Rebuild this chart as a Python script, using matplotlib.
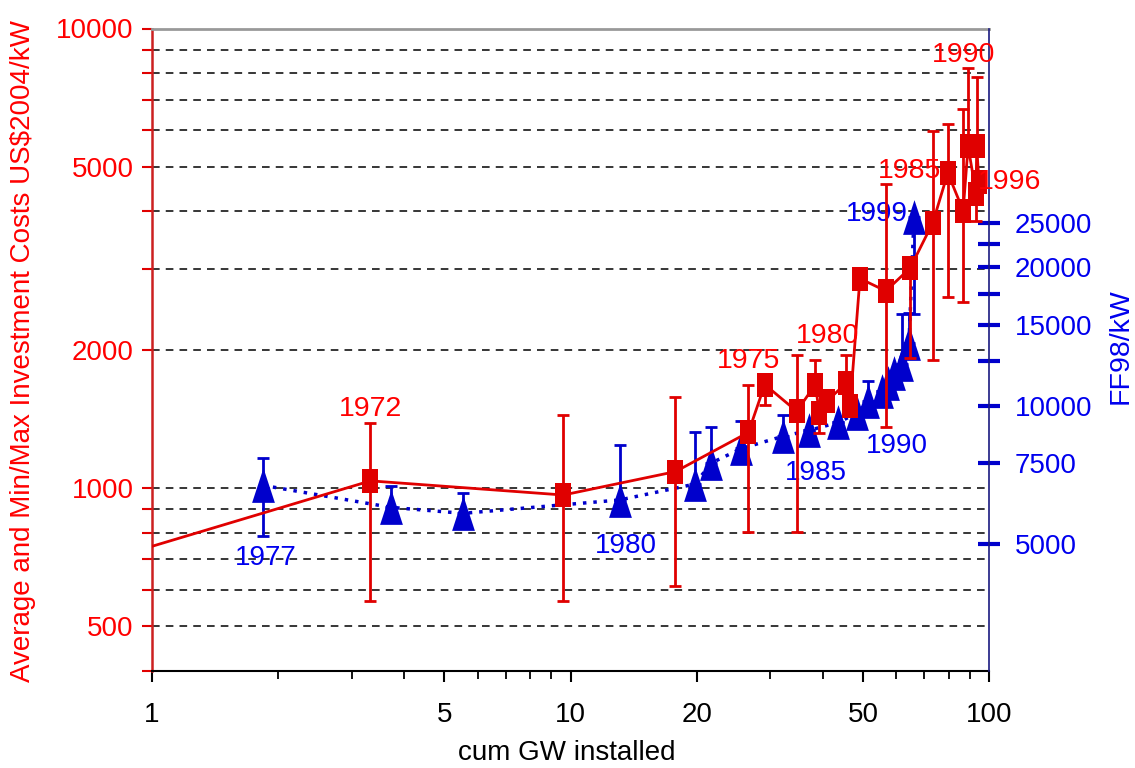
import numpy as np
import matplotlib
matplotlib.use('Agg')
import matplotlib.pyplot as plt
from matplotlib.ticker import NullFormatter, NullLocator

plt.rcParams['font.family'] = ['Liberation Sans', 'DejaVu Sans']

# average investment cost (US$2004/kW) vs cumulative GW, with min/max
red_x = [0.5, 3.33, 9.61, 17.8, 26.6, 29.1, 34.7, 38.4, 39.3, 40.9, 45.6, 46.5,
         49.1, 56.6, 64.7, 73.3, 79.6, 86.6, 89.0, 93.0, 93.3, 94.5]
red_y = [618, 1037, 966, 1086, 1322, 1680, 1469, 1680, 1457, 1545, 1694, 1507,
         2857, 2685, 3010, 3779, 4849, 4016, 5540, 4370, 5540, 4630]
red_min = [618, 567, 567, 612, 801, 1519, 801, 1680, 1317, 1545, 1694, 1507,
           2857, 1356, 1920, 1898, 2606, 2541, 5540, 3818, 5540, 4630]
red_max = [618, 1385, 1440, 1576, 1674, 1720, 1947, 1896, 1457, 1545, 1947, 1507,
           2857, 4592, 3010, 5983, 6209, 6672, 8187, 4370, 7828, 4630]

# FF98/kW series (right axis)
blue_x = [1.84, 3.72, 5.54, 13.1, 19.8, 21.7, 25.6, 32.1, 37.2, 43.6, 48.3, 51.4,
          55.4, 57.4, 59.2, 61.8, 64.3, 66.1]
blue_y = [6714, 6012, 5834, 6238, 6754, 7508, 8074, 8577, 8842, 9204, 9630, 10228,
          10754, 11212, 11774, 12346, 13689, 25704]
blue_min = [5214, 6012, 5834, 6238, 6754, 7508, 8074, 8577, 8842, 9204, 9630, 10228,
            10754, 11212, 11774, 12346, 13689, 15839]
blue_max = [7704, 6694, 6474, 8198, 8752, 8974, 9249, 9532, 8842, 9204, 9630, 11347,
            10754, 11212, 11774, 15839, 15900, 25704]

# year labels: (point index, text)
red_years = [(1, '1972'), (4, '1975'), (8, '1980'), (16, '1985'), (18, '1990'), (21, '1996')]
blue_years = [(0, '1977'), (3, '1980'), (8, '1985'), (12, '1990'), (17, '1999')]

RED = '#e00000'
RED_TXT = '#ff0000'
BLUE = '#0000cc'
BLUE_TXT = '#0000ee'
ratio = 6.62

fig = plt.figure(figsize=(11.35, 7.68), dpi=100)
pos = [151.7 / 1135, 1 - 671 / 768, 837.6 / 1135, 642.5 / 768]
ax = fig.add_axes(pos)
ax.set_xscale('log')
ax.set_yscale('log')
ax.set_xlim(1, 100)
ax.set_ylim(400, 10000)

ax.set_yticks([500, 1000, 2000, 5000, 10000], labels=['500', '1000', '2000', '5000', '10000'])
ax.set_yticks([400, 600, 700, 800, 900, 3000, 4000, 6000, 7000, 8000, 9000], minor=True)
ax.yaxis.set_minor_formatter(NullFormatter())
ax.set_xticks([1, 5, 10, 20, 50, 100], labels=['1', '5', '10', '20', '50', '100'])
ax.set_xticks([2, 3, 4, 6, 7, 8, 9, 30, 40, 60, 70, 80, 90], minor=True)
ax.xaxis.set_minor_formatter(NullFormatter())

ax.tick_params(axis='y', which='both', colors=RED, labelcolor=RED_TXT, length=7,
               width=1.5, pad=6, labelsize=20)
ax.tick_params(axis='x', which='major', length=8, width=1.5, pad=14, labelsize=20)
ax.tick_params(axis='x', which='minor', length=5.5, width=1.3)
ax.grid(True, which='both', axis='y', color='black', linewidth=1.1, dashes=(5, 4))
ax.spines['right'].set_visible(False)
ax.spines['top'].set_color('#999999')
ax.spines['top'].set_linewidth(2)
ax.spines['left'].set_color('#cc2020')
ax.spines['left'].set_linewidth(1.8)
ax.spines['bottom'].set_linewidth(1.5)

# blue series on right axis
ax2 = ax.twinx()
ax2.set_yscale('log')
ax2.set_ylim(400 * ratio, 10000 * ratio)
for s in ['left', 'top', 'bottom']:
    ax2.spines[s].set_visible(False)
ax2.spines['right'].set_color('#1a1a80')
ax2.spines['right'].set_linewidth(1.2)
ax2.set_yticks([5000, 7500, 10000, 12500, 15000, 17500, 20000, 22500, 25000],
               labels=['5000', '7500', '10000', '', '15000', '', '20000', '', '25000'])
ax2.yaxis.set_minor_locator(NullLocator())
ax2.tick_params(axis='y', direction='inout', length=16.5, width=3, colors=BLUE,
                labelcolor=BLUE_TXT, pad=10, labelsize=20)

tri = [(0, 1), (-0.657, -1), (0.657, -1)]
bx = np.array(blue_x)
by = np.array(blue_y)
ax2.plot(bx, by, color=BLUE, linewidth=2.5, linestyle=(0, (1, 2)), zorder=2)
ax2.errorbar(bx, by, yerr=[by - np.array(blue_min), np.array(blue_max) - by],
             fmt='none', ecolor=BLUE, elinewidth=2, capsize=4.5, capthick=2, zorder=3)
ax2.plot(bx, by, linestyle='none', marker=tri, markersize=25, color=BLUE,
         markeredgewidth=0, zorder=4)
for i, t in blue_years:
    off = {0: (3, -73), 3: (6, -46), 8: (6, -43), 12: (15, -55), 17: (-37, 3)}[i]
    ax2.annotate(t, (blue_x[i], blue_y[i]), xytext=off, textcoords='offset pixels',
                 ha='center', va='center', color=BLUE_TXT, fontsize=20)

# red series on top, sharing the left scale
ax_r = fig.add_axes(pos, sharex=ax, sharey=ax)
ax_r.patch.set_visible(False)
ax_r.axis('off')
rect = [(-0.667, -1), (0.667, -1), (0.667, 1), (-0.667, 1)]
rx = np.array(red_x)
ry = np.array(red_y)
ax_r.errorbar(rx, ry, yerr=[ry - np.array(red_min), np.array(red_max) - ry],
              fmt='none', ecolor=RED, elinewidth=2, capsize=4.5, capthick=2, zorder=2)
ax_r.plot(rx, ry, color=RED, linewidth=2, marker=rect, markersize=17.5,
          markeredgewidth=0, zorder=3)
for i, t in red_years:
    off = {1: (0, 72), 4: (0, 71), 8: (8, 77), 16: (-38, 2), 18: (-5, 91), 21: (31, 0)}[i]
    ax_r.annotate(t, (red_x[i], red_y[i]), xytext=off, textcoords='offset pixels',
                  ha='center', va='center', color=RED_TXT, fontsize=20.5,
                  annotation_clip=False)

fig.text(23 / 1135, 1 - 351.5 / 768, 'Average and Min/Max Investment Costs US$2004/kW',
         rotation=90, ha='center', va='center', color=RED_TXT, fontsize=20)
fig.text(1121 / 1135, 1 - 346 / 768, 'FF98/kW', rotation=90, ha='center', va='center',
         color=BLUE_TXT, fontsize=20.5)
fig.text(567 / 1135, 1 - 753 / 768, 'cum GW installed', ha='center', va='center',
         color='black', fontsize=20)

plt.savefig('out.png', dpi=100)
